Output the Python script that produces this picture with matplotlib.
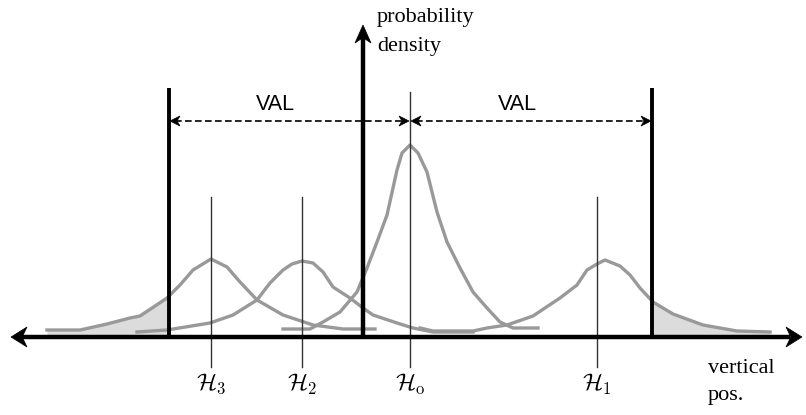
import numpy as np
import matplotlib.pyplot as plt
from matplotlib.patches import Polygon, Rectangle

plt.rcParams['mathtext.fontset'] = 'cm'

# hypotheses: label, centre position, height of marker line
hyp_labels = [r'$\mathcal{H}_3$', r'$\mathcal{H}_2$', r'$\mathcal{H}_\mathrm{o}$', r'$\mathcal{H}_1$']
hyp_centres = [211, 302, 410, 597]
hyp_tops = [140, 140, 245, 140]

# density curves (position, density)
h3_x = [47, 80, 107, 130, 140, 167, 180, 193, 211, 227, 240, 257, 283, 313, 343, 375]
h3_y = [7, 7, 13, 19, 21, 39, 52, 67, 78, 70, 55, 37, 22, 12, 8, 8]

h2_x = [137, 167, 210, 233, 257, 270, 283, 292, 302, 313, 323, 333, 350, 363, 373, 397, 413, 433, 473]
h2_y = [5, 7, 14, 22, 37, 54, 67, 73, 76, 74, 65, 50, 39, 29, 22, 14, 9, 5, 5]

h0_x = [283, 310, 323, 340, 357, 367, 377, 387, 393, 397, 402, 410, 418, 427, 437, 447,
        460, 473, 487, 500, 513, 538]
h0_y = [8, 8, 15, 25, 45, 69, 95, 122, 149, 167, 184, 192, 184, 165, 125, 95,
        69, 45, 29, 15, 9, 9]

h1_x = [420, 433, 473, 487, 507, 533, 560, 577, 587, 597, 605, 620, 630, 640, 653, 673, 703, 737, 770]
h1_y = [9, 6, 6, 9, 12, 21, 39, 52, 67, 73, 77, 71, 62, 49, 35, 23, 12, 6, 5]

# alert limits
val_lo = 169
val_hi = 652
val_top = 249
val_arrow_y = 216

CURVE = '#999999'
SHADE = '#dcdcdc'


def stealth(ax, tip, direction, length, half_w, notch=0.7, color='black', z=5):
    # arrow head with a concave back, in data units (1 unit = 1 px here)
    d = np.array(direction, float)
    d /= np.linalg.norm(d)
    n = np.array([-d[1], d[0]])
    tip = np.array(tip, float)
    pts = [tip, tip - d * length + n * half_w, tip - d * length * notch, tip - d * length - n * half_w]
    ax.add_patch(Polygon(pts, closed=True, facecolor=color, edgecolor=color, lw=0.5, zorder=z))


fig = plt.figure(figsize=(8.06, 4.15), dpi=100)
ax = fig.add_axes([0, 0, 1, 1])
ax.set_xlim(0, 806)
ax.set_ylim(-78, 337)
ax.axis('off')

# shaded tails outside the limits
f1 = ax.fill_between(h3_x, 0, h3_y, color=SHADE, lw=0, zorder=1)
f1.set_clip_path(Rectangle((0, -5), val_lo, 300, transform=ax.transData))
f2 = ax.fill_between(h1_x, 0, h1_y, color=SHADE, lw=0, zorder=1)
f2.set_clip_path(Rectangle((val_hi, -5), 806 - val_hi, 300, transform=ax.transData))

# curves
for xs, ys in [(h3_x, h3_y), (h2_x, h2_y), (h0_x, h0_y), (h1_x, h1_y)]:
    ax.plot(xs, ys, color=CURVE, lw=2.4, solid_joinstyle='round', zorder=2)

# hypothesis marker lines and labels
for lab, xc, top in zip(hyp_labels, hyp_centres, hyp_tops):
    ax.plot([xc, xc], [-30, top], color='#333333', lw=1.0, zorder=3)
    ax.text(xc, -47, lab, ha='center', va='center', fontsize=17)

# VAL limits
for xv in [val_lo, val_hi]:
    ax.plot([xv, xv], [0, val_top], color='black', lw=2.8, zorder=4, solid_capstyle='butt')

# VAL dashed arrows
for a, b in [(val_lo, hyp_centres[2]), (hyp_centres[2], val_hi)]:
    ax.plot([a + 6, b - 6], [val_arrow_y, val_arrow_y], color='black', lw=1.2,
            linestyle=(0, (4, 2)), zorder=4)
    stealth(ax, (a + 1, val_arrow_y), (-1, 0), 10, 5)
    stealth(ax, (b - 1, val_arrow_y), (1, 0), 10, 5)
    ax.text((a + b) / 2 - 14, 232, 'VAL', ha='center', va='center',
            fontsize=15.5, family='Liberation Sans')

# axes arrows
ax.plot([22, 790], [0, 0], color='black', lw=3.2, zorder=6, solid_capstyle='butt')
stealth(ax, (11, 0), (-1, 0), 16, 10, z=6)
stealth(ax, (802, 0), (1, 0), 16, 10, z=6)
ax.plot([363, 363], [0, 300], color='black', lw=3.2, zorder=6, solid_capstyle='butt')
stealth(ax, (363, 312), (0, 1), 18, 8, z=6)

serif = dict(ha='left', va='baseline', fontsize=16, family='Liberation Serif')
ax.text(377, 315, 'probability', **serif)
ax.text(377, 286, 'density', **serif)
ax.text(708, -36, 'vertical', **serif)
ax.text(708, -63, 'pos.', **serif)

fig.savefig('out.png', dpi=100)
